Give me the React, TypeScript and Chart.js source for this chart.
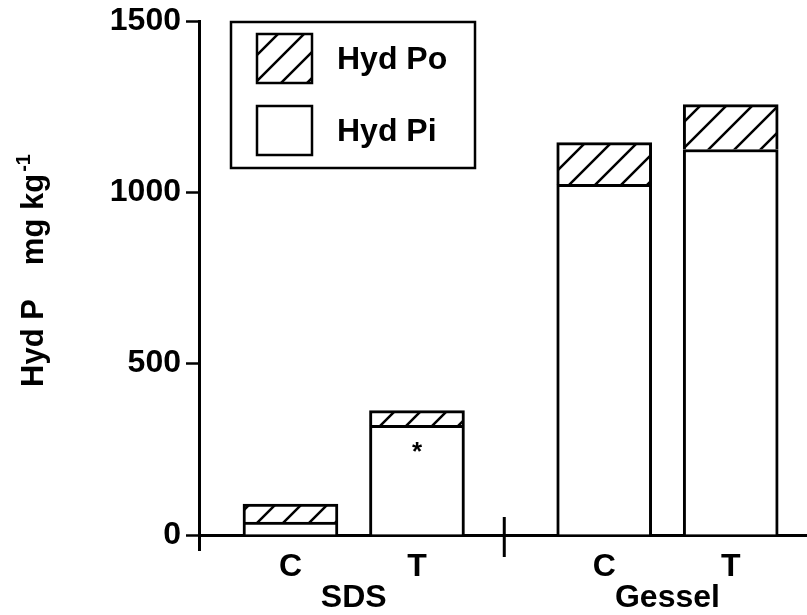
import React, { useEffect, useRef } from 'react';
import { Chart, registerables } from 'chart.js';

Chart.register(...registerables);

// ---- data ----
const categories = ['C', 'T', 'C', 'T'];
const groups = ['SDS', 'SDS', 'Gessel', 'Gessel'];
const xPositions = [1, 2, 3.48, 4.48];
const hydPi = [38, 320, 1023, 1125];
const hydPo = [52, 43, 122, 131];
const significance = ['', '*', '', ''];
const yTicks = [0, 500, 1000, 1500];
const groupSeparator = 2.69;
const xMin = 0.277;
const xMax = 5.083;

const FONT = "'Liberation Sans', Arial, Helvetica, sans-serif";

function makeHatch(period: number, lw: number): CanvasPattern | string {
  const c = document.createElement('canvas');
  c.width = period;
  c.height = period;
  const g = c.getContext('2d');
  if (!g) return '#fff';
  g.fillStyle = '#fff';
  g.fillRect(0, 0, period, period);
  g.strokeStyle = '#000';
  g.lineWidth = lw;
  g.beginPath();
  for (const k of [0, 1, 2]) {
    const cst = k * period;
    g.moveTo(cst + 2, -2);
    g.lineTo(-2, cst + 2);
  }
  g.stroke();
  const p = g.createPattern(c, 'repeat');
  return p || '#fff';
}

const decorPlugin = {
  id: 'decor',
  afterDraw(chart: any) {
    const { ctx, chartArea, scales } = chart;
    const xs = scales.x;
    const ys = scales.y;
    ctx.save();
    ctx.strokeStyle = '#000';
    ctx.fillStyle = '#000';

    // group separator on the x axis
    const sx = xs.getPixelForValue(groupSeparator);
    ctx.lineWidth = 3;
    ctx.beginPath();
    ctx.moveTo(sx, chartArea.bottom - 18);
    ctx.lineTo(sx, chartArea.bottom + 22);
    ctx.stroke();

    // group labels
    const seen: string[] = [];
    groups.forEach((g) => { if (!seen.includes(g)) seen.push(g); });
    ctx.font = `bold 32px ${FONT}`;
    ctx.textAlign = 'center';
    ctx.textBaseline = 'alphabetic';
    seen.forEach((g) => {
      const px = xPositions.filter((_, i) => groups[i] === g).map((v) => xs.getPixelForValue(v));
      const cx = px.reduce((a, b) => a + b, 0) / px.length;
      ctx.fillText(g, cx, chartArea.bottom + 72);
    });

    // significance markers
    ctx.font = `bold 26px ${FONT}`;
    ctx.textBaseline = 'middle';
    significance.forEach((s, i) => {
      if (!s) return;
      const x = xs.getPixelForValue(xPositions[i]);
      const y = ys.getPixelForValue(hydPi[i] * 0.75);
      ctx.fillText(s, x, y);
    });

    // legend box
    const bx = chartArea.left + 32;
    const by = chartArea.top + 1;
    const bw = 244;
    const bh = 146;
    ctx.fillStyle = '#fff';
    ctx.fillRect(bx, by, bw, bh);
    ctx.lineWidth = 2.5;
    ctx.strokeRect(bx, by, bw, bh);
    const items = [...chart.data.datasets].reverse();
    items.forEach((ds: any, k: number) => {
      const sy = by + 12 + k * 72;
      ctx.fillStyle = ds.backgroundColor;
      ctx.fillRect(bx + 26, sy, 55, 49);
      ctx.lineWidth = 2.5;
      ctx.strokeRect(bx + 26, sy, 55, 49);
      ctx.fillStyle = '#000';
      ctx.font = `bold 32px ${FONT}`;
      ctx.textAlign = 'left';
      ctx.textBaseline = 'middle';
      ctx.fillText(ds.label, bx + 106, sy + 26);
    });

    // y axis title with superscript
    ctx.translate(43, 387);
    ctx.rotate(-Math.PI / 2);
    ctx.fillStyle = '#000';
    ctx.textAlign = 'left';
    ctx.textBaseline = 'alphabetic';
    ctx.font = `bold 31px ${FONT}`;
    const s1 = 'Hyd P';
    ctx.fillText(s1, 0, 0);
    const w1 = ctx.measureText(s1).width;
    const s2 = 'mg kg';
    const x2 = w1 + 34;
    ctx.fillText(s2, x2, 0);
    const w2 = ctx.measureText(s2).width;
    ctx.font = `bold 20px ${FONT}`;
    ctx.fillText('-1', x2 + w2 + 2, -13);
    ctx.restore();
  },
};

export default function App() {
  const ref = useRef<HTMLCanvasElement | null>(null);
  useEffect(() => {
    if (!ref.current) return;
    const hatch = makeHatch(26, 2.5);
    const chart = new Chart(ref.current, {
      type: 'bar',
      data: {
        datasets: [
          {
            label: 'Hyd Pi',
            data: xPositions.map((x, i) => ({ x, y: hydPi[i] })),
            backgroundColor: '#ffffff',
            borderColor: '#000000',
            borderWidth: 3,
            barThickness: 95,
          },
          {
            label: 'Hyd Po',
            data: xPositions.map((x, i) => ({ x, y: hydPo[i] })),
            backgroundColor: hatch as any,
            borderColor: '#000000',
            borderWidth: 3,
            barThickness: 95,
          },
        ],
      } as any,
      options: {
        responsive: false,
        animation: false,
        layout: { padding: { top: 16, left: 0, right: 0, bottom: 0 } },
        plugins: { legend: { display: false }, tooltip: { enabled: false } },
        scales: {
          x: {
            type: 'linear',
            stacked: true,
            offset: false,
            min: xMin,
            max: xMax,
            z: 1,
            afterBuildTicks: (s: any) => {
              s.ticks = [xMin, ...xPositions].map((v) => ({ value: v }));
            },
            afterFit: (s: any) => {
              s.height = 80;
            },
            ticks: {
              autoSkip: false,
              maxRotation: 0,
              color: '#000',
              padding: 0,
              font: { family: FONT, size: 32, weight: 'bold', lineHeight: 1 },
              callback: (_v: any, i: number) => (i === 0 ? '' : categories[i - 1]),
            },
            grid: {
              offset: false,
              drawOnChartArea: false,
              drawTicks: true,
              tickLength: 16,
              tickWidth: 3,
              tickColor: (c: any) => (c.index === 0 ? '#000' : 'rgba(0,0,0,0)'),
            },
            border: { display: true, color: '#000', width: 3 },
          },
          y: {
            stacked: true,
            min: 0,
            max: 1500,
            z: 1,
            afterBuildTicks: (s: any) => {
              s.ticks = yTicks.map((v) => ({ value: v }));
            },
            afterFit: (s: any) => {
              s.width = 199;
            },
            ticks: {
              color: '#000',
              padding: 5,
              font: { family: FONT, size: 32, weight: 'bold', lineHeight: 1 },
              callback: (v: any) => String(v),
            },
            grid: {
              drawOnChartArea: false,
              drawTicks: true,
              tickLength: 13,
              tickWidth: 2.5,
              tickColor: '#000',
            },
            border: { display: true, color: '#000', width: 3 },
          },
        },
      } as any,
      plugins: [decorPlugin],
    });
    return () => chart.destroy();
  }, []);

  return (
    <div style={{ position: 'absolute', left: 0, top: 0, width: 807, height: 615, background: '#fff' }}>
      <canvas ref={ref} width={807} height={615} style={{ display: 'block' }} />
    </div>
  );
}
